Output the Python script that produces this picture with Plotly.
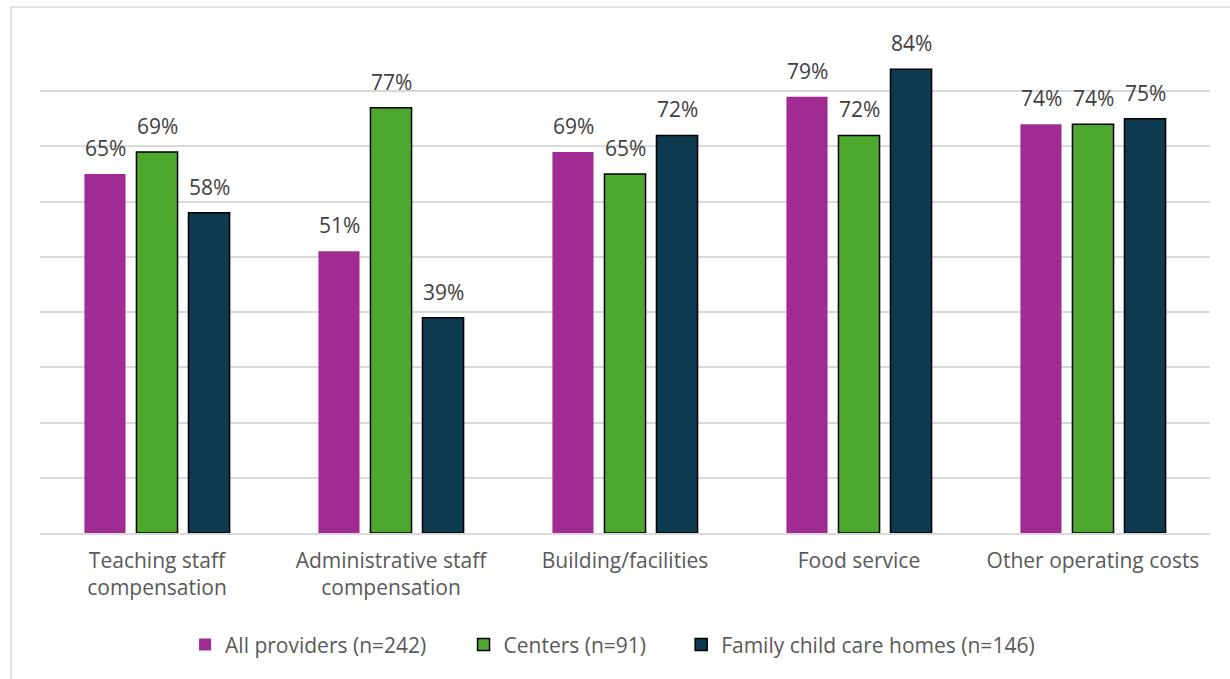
import plotly.graph_objects as go

categories = [
    "Teaching staff<br>compensation",
    "Administrative staff<br>compensation",
    "Building/facilities",
    "Food service",
    "Other operating costs",
]
all_providers = [65, 51, 69, 79, 74]
centers = [69, 77, 65, 72, 74]
family_homes = [58, 39, 72, 84, 75]

series = [
    ("All providers (n=242)", all_providers, "#A02B93", "#A02B93", 0),
    ("Centers (n=91)", centers, "#4EA72E", "#000000", 1.5),
    ("Family child care homes (n=146)", family_homes, "#0E3A4F", "#000000", 1.5),
]

FONT = "Open Sans, Arial, sans-serif"
SLOT_PX = 52  # horizontal distance between neighbouring bars in a group
legend_ids = ["legend", "legend2", "legend3"]
legend_x = [0.124, 0.362, 0.548]

fig = go.Figure()
for i, (name, vals, color, edge, lw) in enumerate(series):
    fig.add_trace(go.Bar(
        name=name,
        x=categories,
        y=vals,
        marker=dict(color=color, line=dict(color=edge, width=lw)),
        legend=legend_ids[i],
    ))
    # value labels above each bar
    for cat, v in zip(categories, vals):
        fig.add_annotation(
            x=cat, y=v, xref="x", yref="y",
            text=f"{v}%", showarrow=False,
            xshift=(i - 1) * SLOT_PX, yshift=10, yanchor="bottom",
            font=dict(size=21, color="#404040", family=FONT),
        )

# light frame around the chart area
fig.add_shape(type="rect", xref="paper", yref="paper",
              x0=-0.0248, x1=1.03, y0=-0.33, y1=1.0584,
              line=dict(color="#d9d9d9", width=1.5), fillcolor="rgba(0,0,0,0)",
              layer="below")

legend_style = dict(orientation="h", xanchor="left", y=-0.225, yanchor="middle",
                    font=dict(size=21, color="#595959", family=FONT),
                    itemwidth=30, bgcolor="rgba(0,0,0,0)")

fig.update_layout(
    width=1230, height=679,
    margin=dict(l=40, r=20, t=36, b=146),
    paper_bgcolor="white", plot_bgcolor="white",
    barmode="group", bargap=0.333, bargroupgap=0.21,
    font=dict(family=FONT, color="#595959", size=21),
    showlegend=True,
    legend=dict(x=legend_x[0], **legend_style),
    legend2=dict(x=legend_x[1], **legend_style),
    legend3=dict(x=legend_x[2], **legend_style),
    xaxis=dict(showgrid=False, showline=True, linecolor="#d9d9d9", linewidth=1.5,
               tickfont=dict(size=21, color="#595959", family=FONT), ticks="",
               ticklabelstandoff=8),
    yaxis=dict(range=[0, 90], dtick=10, showgrid=True, gridcolor="#d9d9d9", gridwidth=1.5,
               showticklabels=False, zeroline=False, showline=False),
)

fig.write_html("out.html")
